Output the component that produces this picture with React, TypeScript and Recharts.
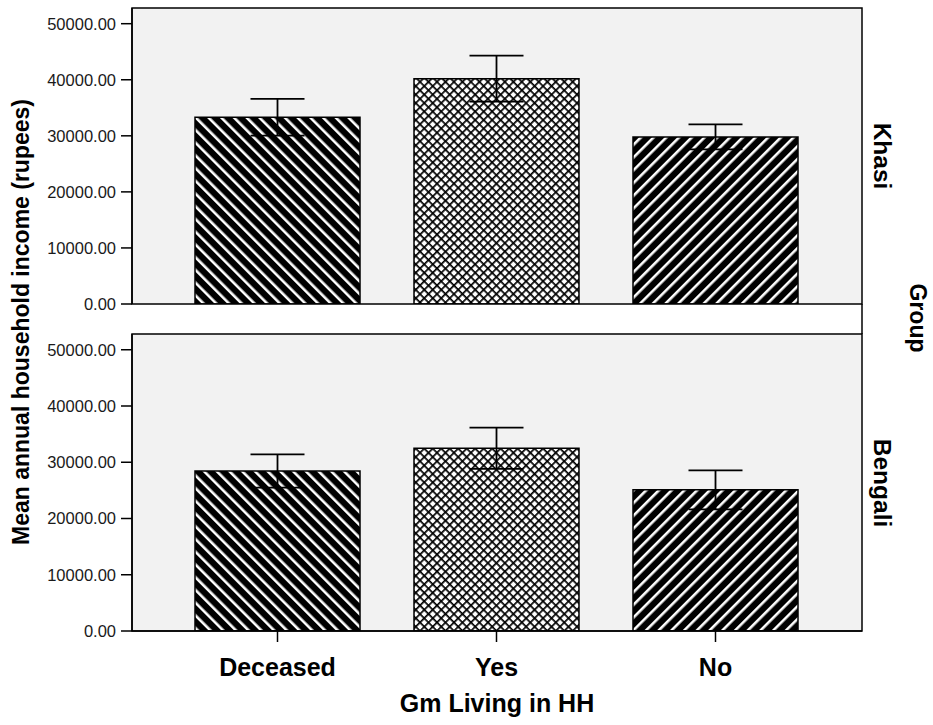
import React from 'react';
import {
  BarChart,
  Bar,
  Cell,
  XAxis,
  YAxis,
  CartesianGrid,
  ErrorBar,
} from 'recharts';

const categories = ['Deceased', 'Yes', 'No'];
const khasiMeans = [33300, 40200, 29800];
const khasiErrors = [3280, 4100, 2230];
const bengaliMeans = [28450, 32500, 25100];
const bengaliErrors = [2950, 3660, 3460];
const yTicks = [0, 10000, 20000, 30000, 40000, 50000];
const patternIds = ['hatchBack', 'crossHatch', 'hatchFwd'];

const FONT = '"Liberation Sans", Arial, Helvetica, sans-serif';
const Y_MAX = 52800;

const buildRows = (means: number[], errors: number[]) =>
  categories.map((name, i) => ({ name, mean: means[i], err: errors[i] }));

const khasiRows = buildRows(khasiMeans, khasiErrors);
const bengaliRows = buildRows(bengaliMeans, bengaliErrors);

// one facet panel; bottom panel also carries the category axis
function Panel({
  rows,
  height,
  marginTop,
  showCategories,
}: {
  rows: { name: string; mean: number; err: number }[];
  height: number;
  marginTop: number;
  showCategories: boolean;
}) {
  return (
    <BarChart
      width={933}
      height={height}
      data={rows}
      margin={{ top: marginTop, right: 71, left: 0, bottom: showCategories ? 0 : 16 }}
      barSize={165}
    >
      <CartesianGrid horizontal={false} vertical={false} fill='#f2f2f2' fillOpacity={1} />
      <XAxis
        dataKey='name'
        padding={{ left: 36, right: 37 }}
        height={showCategories ? 94 : 0}
        hide={!showCategories}
        axisLine={{ stroke: '#000', strokeWidth: 1.5 }}
        tickLine={{ stroke: '#000', strokeWidth: 1.5 }}
        tickSize={11}
        tickMargin={16}
        tick={{ fontSize: 25, fontWeight: 'bold', fill: '#000' }}
        label={{
          value: 'Gm Living in HH',
          position: 'insideBottom',
          offset: 13,
          fontSize: 25,
          fontWeight: 'bold',
          fill: '#000',
        }}
      />
      <YAxis
        width={132}
        domain={[0, Y_MAX]}
        ticks={yTicks}
        allowDataOverflow
        tickFormatter={(v: number) => v.toFixed(2)}
        tickSize={11}
        tickMargin={5}
        tick={{ fontSize: 16.5, fill: '#1a1a1a' }}
        axisLine={{ stroke: '#000', strokeWidth: 1.5 }}
        tickLine={{ stroke: '#000', strokeWidth: 1.5 }}
      />
      <Bar dataKey='mean' stroke='#000' strokeWidth={1.5} isAnimationActive={false}>
        {rows.map((r, i) => (
          <Cell key={r.name} fill={`url(#${patternIds[i]})`} />
        ))}
        <ErrorBar
          dataKey='err'
          width={27}
          stroke='#000'
          strokeWidth={1.8}
          isAnimationActive={false}
        />
      </Bar>
    </BarChart>
  );
}

export default function App() {
  return (
    <div
      style={{
        position: 'absolute',
        left: 0,
        top: 0,
        width: 933,
        height: 725,
        background: '#fff',
        fontFamily: FONT,
      }}
    >
      <div style={{ position: 'absolute', left: 0, top: 0 }}>
        <Panel rows={khasiRows} height={320} marginTop={8} showCategories={false} />
      </div>
      <div style={{ position: 'absolute', left: 0, top: 320 }}>
        <Panel rows={bengaliRows} height={405} marginTop={14} showCategories />
      </div>
      <svg
        width={933}
        height={725}
        style={{ position: 'absolute', left: 0, top: 0, pointerEvents: 'none' }}
      >
        <defs>
          <pattern id='hatchBack' patternUnits='userSpaceOnUse' width={9} height={9} patternTransform='rotate(-45)'>
            <rect width={9} height={9} fill='#000' />
            <rect x={0} y={0} width={2.6} height={9} fill='#fff' />
          </pattern>
          <pattern id='hatchFwd' patternUnits='userSpaceOnUse' width={9} height={9} patternTransform='rotate(45)'>
            <rect width={9} height={9} fill='#000' />
            <rect x={0} y={0} width={2.6} height={9} fill='#fff' />
          </pattern>
          <pattern id='crossHatch' patternUnits='userSpaceOnUse' width={6} height={6} patternTransform='rotate(45)'>
            <rect width={6} height={6} fill='#fff' />
            <rect x={0} y={0} width={1.7} height={6} fill='#000' />
            <rect x={0} y={0} width={6} height={1.7} fill='#000' />
          </pattern>
        </defs>
        {/* facet frames; the right edge runs on through the gap */}
        <g fill='none' stroke='#000' strokeWidth={1.5}>
          <rect x={132} y={8} width={730} height={296} />
          <rect x={132} y={334} width={730} height={297} />
          <line x1={862} y1={304} x2={862} y2={334} />
        </g>
        <text
          transform='translate(21 322) rotate(-90)'
          textAnchor='middle'
          dominantBaseline='central'
          fontSize={23}
          fontWeight='bold'
        >
          Mean annual household income (rupees)
        </text>
        <text
          transform='translate(882 156) rotate(90)'
          textAnchor='middle'
          dominantBaseline='central'
          fontSize={24.5}
          fontWeight='bold'
        >
          Khasi
        </text>
        <text
          transform='translate(882 483) rotate(90)'
          textAnchor='middle'
          dominantBaseline='central'
          fontSize={24.5}
          fontWeight='bold'
        >
          Bengali
        </text>
        <text
          transform='translate(918 318) rotate(90)'
          textAnchor='middle'
          dominantBaseline='central'
          fontSize={23}
          fontWeight='bold'
        >
          Group
        </text>
      </svg>
    </div>
  );
}
